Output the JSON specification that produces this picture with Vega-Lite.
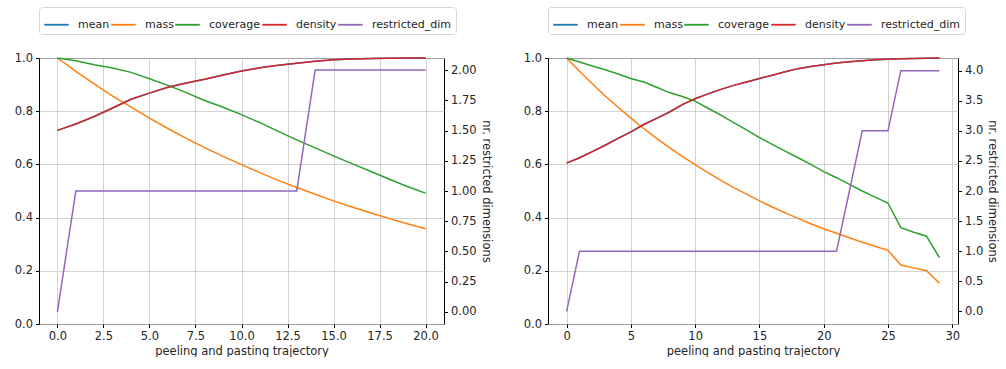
{
  "$schema": "https://vega.github.io/schema/vega-lite/v6.json",
  "padding": {"left": 13, "top": 6, "right": 0, "bottom": 0},
  "spacing": 30,
  "config": {
    "font": "DejaVu Sans",
    "view": {"stroke": "#000000", "strokeWidth": 1},
    "axis": {
      "labelFont": "DejaVu Sans", "titleFont": "DejaVu Sans",
      "labelFontSize": 11.5, "titleFontSize": 11.5, "titleFontWeight": "normal",
      "labelColor": "#262626", "titleColor": "#262626",
      "tickColor": "#000000", "tickSize": 3.5, "labelPadding": 3,
      "domain": false, "gridColor": "#c8c8c8", "gridWidth": 0.8
    },
    "legend": {
      "labelFont": "DejaVu Sans", "labelFontSize": 11, "labelColor": "#262626",
      "strokeColor": "#d6d6d6", "cornerRadius": 3, "padding": 4,
      "symbolType": "stroke", "symbolStrokeWidth": 1.8, "symbolSize": 600,
      "columnPadding": -15, "labelOffset": 8, "title": null
    }
  },
  "datasets": {
    "left": [
      {"t": 0, "mean": 0.728, "mass": 1.0, "coverage": 1.0, "density": 0.728, "restricted_dim": 0},
      {"t": 1, "mean": 0.752, "mass": 0.95, "coverage": 0.99, "density": 0.752, "restricted_dim": 1},
      {"t": 2, "mean": 0.78, "mass": 0.903, "coverage": 0.975, "density": 0.78, "restricted_dim": 1},
      {"t": 3, "mean": 0.812, "mass": 0.857, "coverage": 0.962, "density": 0.812, "restricted_dim": 1},
      {"t": 4, "mean": 0.845, "mass": 0.815, "coverage": 0.946, "density": 0.845, "restricted_dim": 1},
      {"t": 5, "mean": 0.868, "mass": 0.774, "coverage": 0.922, "density": 0.868, "restricted_dim": 1},
      {"t": 6, "mean": 0.89, "mass": 0.735, "coverage": 0.897, "density": 0.89, "restricted_dim": 1},
      {"t": 7, "mean": 0.906, "mass": 0.698, "coverage": 0.87, "density": 0.906, "restricted_dim": 1},
      {"t": 8, "mean": 0.92, "mass": 0.663, "coverage": 0.84, "density": 0.92, "restricted_dim": 1},
      {"t": 9, "mean": 0.936, "mass": 0.63, "coverage": 0.815, "density": 0.936, "restricted_dim": 1},
      {"t": 10, "mean": 0.951, "mass": 0.599, "coverage": 0.787, "density": 0.951, "restricted_dim": 1},
      {"t": 11, "mean": 0.963, "mass": 0.569, "coverage": 0.757, "density": 0.963, "restricted_dim": 1},
      {"t": 12, "mean": 0.973, "mass": 0.54, "coverage": 0.724, "density": 0.973, "restricted_dim": 1},
      {"t": 13, "mean": 0.98, "mass": 0.513, "coverage": 0.692, "density": 0.98, "restricted_dim": 1},
      {"t": 14, "mean": 0.988, "mass": 0.488, "coverage": 0.662, "density": 0.988, "restricted_dim": 2},
      {"t": 15, "mean": 0.993, "mass": 0.463, "coverage": 0.632, "density": 0.993, "restricted_dim": 2},
      {"t": 16, "mean": 0.996, "mass": 0.44, "coverage": 0.603, "density": 0.996, "restricted_dim": 2},
      {"t": 17, "mean": 0.998, "mass": 0.418, "coverage": 0.574, "density": 0.998, "restricted_dim": 2},
      {"t": 18, "mean": 0.999, "mass": 0.397, "coverage": 0.545, "density": 0.999, "restricted_dim": 2},
      {"t": 19, "mean": 1.0, "mass": 0.377, "coverage": 0.517, "density": 1.0, "restricted_dim": 2},
      {"t": 20, "mean": 1.0, "mass": 0.358, "coverage": 0.492, "density": 1.0, "restricted_dim": 2}
    ],
    "right": [
      {"t": 0, "mean": 0.605, "mass": 1.0, "coverage": 1.0, "density": 0.605, "restricted_dim": 0},
      {"t": 1, "mean": 0.625, "mass": 0.95, "coverage": 0.985, "density": 0.625, "restricted_dim": 1},
      {"t": 2, "mean": 0.648, "mass": 0.903, "coverage": 0.97, "density": 0.648, "restricted_dim": 1},
      {"t": 3, "mean": 0.672, "mass": 0.857, "coverage": 0.956, "density": 0.672, "restricted_dim": 1},
      {"t": 4, "mean": 0.698, "mass": 0.815, "coverage": 0.94, "density": 0.698, "restricted_dim": 1},
      {"t": 5, "mean": 0.722, "mass": 0.774, "coverage": 0.923, "density": 0.722, "restricted_dim": 1},
      {"t": 6, "mean": 0.75, "mass": 0.735, "coverage": 0.91, "density": 0.75, "restricted_dim": 1},
      {"t": 7, "mean": 0.773, "mass": 0.698, "coverage": 0.89, "density": 0.773, "restricted_dim": 1},
      {"t": 8, "mean": 0.797, "mass": 0.663, "coverage": 0.87, "density": 0.797, "restricted_dim": 1},
      {"t": 9, "mean": 0.825, "mass": 0.63, "coverage": 0.855, "density": 0.825, "restricted_dim": 1},
      {"t": 10, "mean": 0.847, "mass": 0.599, "coverage": 0.838, "density": 0.847, "restricted_dim": 1},
      {"t": 11, "mean": 0.865, "mass": 0.569, "coverage": 0.811, "density": 0.865, "restricted_dim": 1},
      {"t": 12, "mean": 0.882, "mass": 0.54, "coverage": 0.785, "density": 0.882, "restricted_dim": 1},
      {"t": 13, "mean": 0.897, "mass": 0.513, "coverage": 0.757, "density": 0.897, "restricted_dim": 1},
      {"t": 14, "mean": 0.91, "mass": 0.488, "coverage": 0.73, "density": 0.91, "restricted_dim": 1},
      {"t": 15, "mean": 0.923, "mass": 0.463, "coverage": 0.701, "density": 0.923, "restricted_dim": 1},
      {"t": 16, "mean": 0.935, "mass": 0.44, "coverage": 0.675, "density": 0.935, "restricted_dim": 1},
      {"t": 17, "mean": 0.948, "mass": 0.418, "coverage": 0.65, "density": 0.948, "restricted_dim": 1},
      {"t": 18, "mean": 0.96, "mass": 0.397, "coverage": 0.625, "density": 0.96, "restricted_dim": 1},
      {"t": 19, "mean": 0.968, "mass": 0.377, "coverage": 0.6, "density": 0.968, "restricted_dim": 1},
      {"t": 20, "mean": 0.975, "mass": 0.358, "coverage": 0.573, "density": 0.975, "restricted_dim": 1},
      {"t": 21, "mean": 0.981, "mass": 0.341, "coverage": 0.55, "density": 0.981, "restricted_dim": 1},
      {"t": 22, "mean": 0.986, "mass": 0.324, "coverage": 0.525, "density": 0.986, "restricted_dim": 2},
      {"t": 23, "mean": 0.99, "mass": 0.307, "coverage": 0.5, "density": 0.99, "restricted_dim": 3},
      {"t": 24, "mean": 0.993, "mass": 0.292, "coverage": 0.477, "density": 0.993, "restricted_dim": 3},
      {"t": 25, "mean": 0.995, "mass": 0.277, "coverage": 0.455, "density": 0.995, "restricted_dim": 3},
      {"t": 26, "mean": 0.997, "mass": 0.222, "coverage": 0.362, "density": 0.997, "restricted_dim": 4},
      {"t": 27, "mean": 0.998, "mass": 0.211, "coverage": 0.345, "density": 0.998, "restricted_dim": 4},
      {"t": 28, "mean": 0.999, "mass": 0.2, "coverage": 0.33, "density": 0.999, "restricted_dim": 4},
      {"t": 29, "mean": 1.0, "mass": 0.153, "coverage": 0.25, "density": 1.0, "restricted_dim": 4}
    ]
  },
  "hconcat": [
    {
      "width": 405, "height": 266,
      "data": {"name": "left"},
      "layer": [
        {
          "encoding": {
            "x": {"field": "t", "type": "quantitative", "scale": {"domain": [-1, 21], "nice": false, "zero": false},
                  "axis": {"values": [0, 2.5, 5, 7.5, 10, 12.5, 15, 17.5, 20], "format": ".1f", "grid": true, "title": "peeling and pasting trajectory", "titlePadding": 3}},
            "y": {"field": "value", "type": "quantitative", "scale": {"domain": [0, 1], "nice": false},
                  "axis": {"values": [0, 0.2, 0.4, 0.6, 0.8, 1.0], "format": ".1f", "grid": true, "title": null}},
            "color": {"field": "metric", "type": "nominal",
                      "scale": {"domain": ["mean", "mass", "coverage", "density", "restricted_dim"], "range": ["#1f77b4", "#ff7f0e", "#2ca02c", "#d62728", "#9467bd"]},
                      "sort": ["mean", "mass", "coverage", "density", "restricted_dim"],
                      "legend": {"orient": "top", "direction": "horizontal", "offset": 21}}
          },
          "layer": [
            {
              "mark": {"type": "line", "strokeWidth": 1.5},
              "transform": [{"fold": ["mean"], "as": ["metric", "value"]}]
            },
            {
              "mark": {"type": "line", "strokeWidth": 1.5},
              "transform": [{"fold": ["mass", "coverage", "density"], "as": ["metric", "value"]}]
            }
          ]
        },
        {
          "mark": {"type": "line", "strokeWidth": 1.5, "color": "#9467bd"},
          "encoding": {
            "x": {"field": "t", "type": "quantitative"},
            "y": {"field": "restricted_dim", "type": "quantitative", "scale": {"domain": [-0.1, 2.1], "nice": false, "zero": false},
                  "axis": {"orient": "right", "values": [0, 0.25, 0.5, 0.75, 1, 1.25, 1.5, 1.75, 2], "format": ".2f", "grid": false, "title": "nr. restricted dimensions", "titlePadding": 4}},
            "color": {"datum": "restricted_dim"}
          }
        }
      ],
      "resolve": {"scale": {"y": "independent"}}
    },
    {
      "width": 410, "height": 266,
      "data": {"name": "right"},
      "layer": [
        {
          "encoding": {
            "x": {"field": "t", "type": "quantitative", "scale": {"domain": [-1.45, 30.45], "nice": false, "zero": false},
                  "axis": {"values": [0, 5, 10, 15, 20, 25, 30], "format": "d", "grid": true, "title": "peeling and pasting trajectory", "titlePadding": 3}},
            "y": {"field": "value", "type": "quantitative", "scale": {"domain": [0, 1], "nice": false},
                  "axis": {"values": [0, 0.2, 0.4, 0.6, 0.8, 1.0], "format": ".1f", "grid": true, "title": null}},
            "color": {"field": "metric", "type": "nominal",
                      "scale": {"domain": ["mean", "mass", "coverage", "density", "restricted_dim"], "range": ["#1f77b4", "#ff7f0e", "#2ca02c", "#d62728", "#9467bd"]},
                      "sort": ["mean", "mass", "coverage", "density", "restricted_dim"],
                      "legend": {"orient": "top", "direction": "horizontal", "offset": 21}}
          },
          "layer": [
            {
              "mark": {"type": "line", "strokeWidth": 1.5},
              "transform": [{"fold": ["mean"], "as": ["metric", "value"]}]
            },
            {
              "mark": {"type": "line", "strokeWidth": 1.5},
              "transform": [{"fold": ["mass", "coverage", "density"], "as": ["metric", "value"]}]
            }
          ]
        },
        {
          "mark": {"type": "line", "strokeWidth": 1.5, "color": "#9467bd"},
          "encoding": {
            "x": {"field": "t", "type": "quantitative"},
            "y": {"field": "restricted_dim", "type": "quantitative", "scale": {"domain": [-0.21, 4.21], "nice": false, "zero": false},
                  "axis": {"orient": "right", "values": [0, 0.5, 1, 1.5, 2, 2.5, 3, 3.5, 4], "format": ".1f", "grid": false, "title": "nr. restricted dimensions", "titlePadding": 4}},
            "color": {"datum": "restricted_dim"}
          }
        }
      ],
      "resolve": {"scale": {"y": "independent"}}
    }
  ],
  "resolve": {"legend": {"color": "independent"}, "scale": {"color": "independent"}}
}
